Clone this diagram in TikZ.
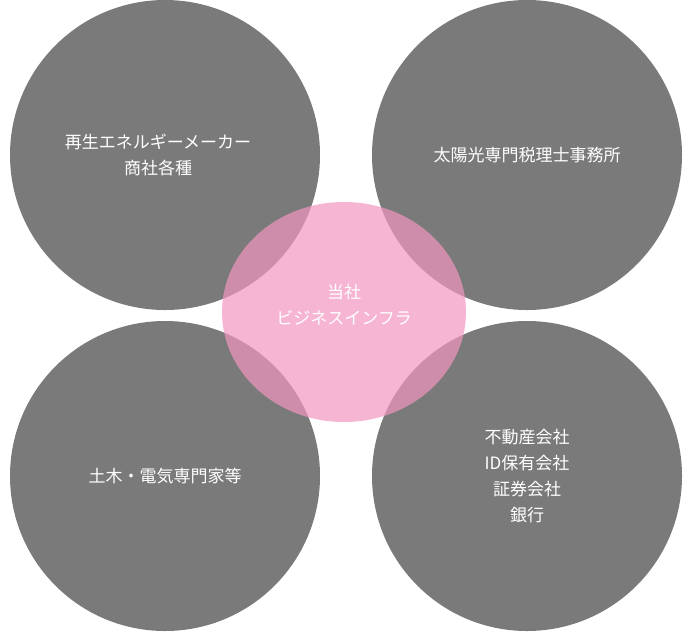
\documentclass[tikz,border=0pt]{standalone}
\usepackage{fontspec}
\setmainfont{Noto Sans CJK JP}
\begin{document}
\begin{tikzpicture}[x=1pt,y=-1pt,
  circ/.style={fill={rgb,255:red,122;green,122;blue,122}},
  lbl/.style={text=white,font=\fontsize{17}{26}\selectfont,align=center}]
\useasboundingbox (0,0) rectangle (690,633);
\fill[circ] (165,155) circle (155) coordinate (c1);
\fill[circ] (527,155) circle (155);
\fill[circ] (165,476) circle (155);
\fill[circ] (527,476) circle (155);
\fill[fill={rgb,255:red,242;green,150;blue,192},opacity=0.7] (344,312) ellipse (122 and 110);
\node[lbl] (a) at (158,155) {再生エネルギーメーカー\\商社各種};
\node[lbl] (b) at (527,155) {太陽光専門税理士事務所};
\node[lbl] (c) at (165,476) {土木・電気専門家等};
\node[lbl] (d) at (527,476) {不動産会社\\ID保有会社\\証券会社\\銀行};
\node[lbl] (e) at (344,305) {当社\\ビジネスインフラ};
\end{tikzpicture}
\end{document}
